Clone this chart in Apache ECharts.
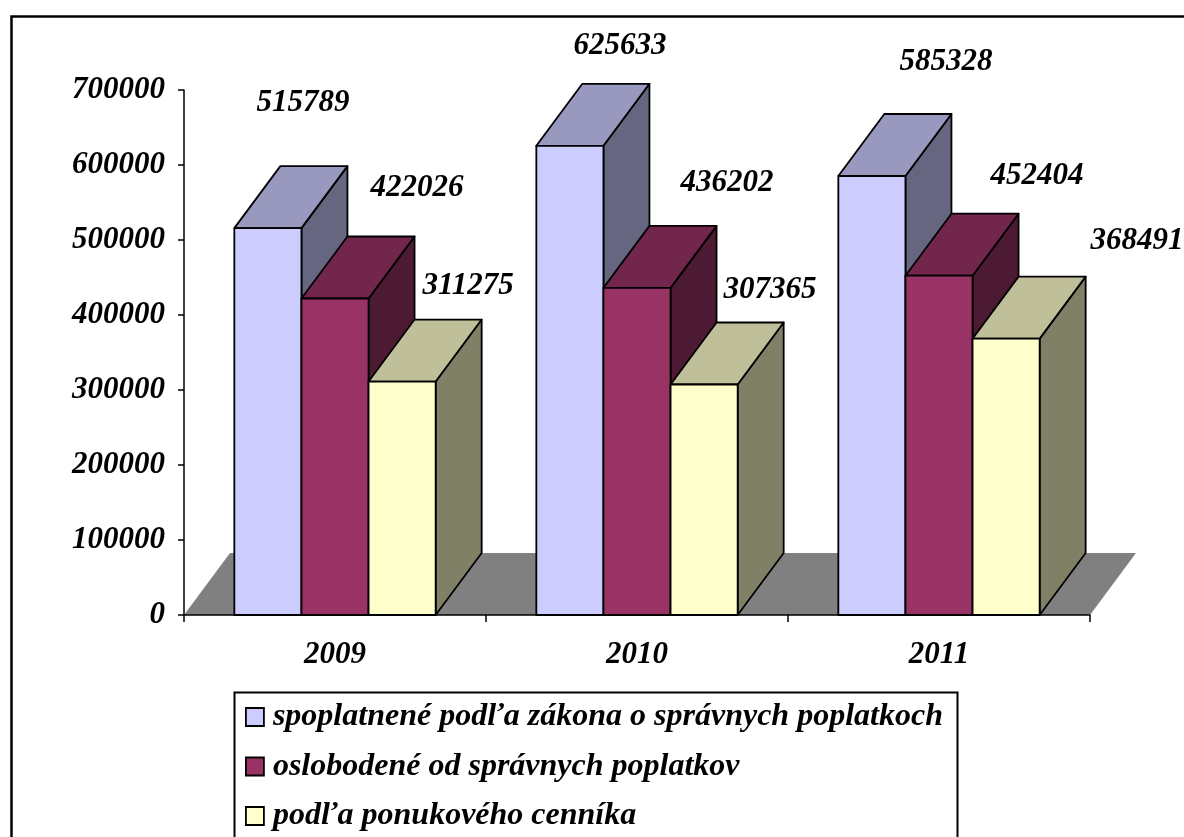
<!DOCTYPE html>
<html><head><meta charset="utf-8">
<script src="https://cdn.jsdelivr.net/npm/echarts@6/dist/echarts.min.js"></script>
<style>html,body{margin:0;padding:0;background:#fff}#c{width:1184px;height:837px}</style>
</head><body><div id="c"></div>
<script>
// ---- data ----
const categories = ['2009', '2010', '2011'];
const seriesNames = [
  'spoplatnené podľa zákona o správnych poplatkoch',
  'oslobodené od správnych poplatkov',
  'podľa ponukového cenníka'
];
const spoplatnene = [515789, 625633, 585328];
const oslobodene = [422026, 436202, 452404];
const cennik = [311275, 307365, 368491];
const yMin = 0, yMax = 700000, yStep = 100000;

// ---- style / layout ----
const FONT = 'Liberation Serif';
const palettes = [
  { front: '#CCCCFF', top: '#9999BF', side: '#666680' },
  { front: '#993366', top: '#73264C', side: '#4D1A33' },
  { front: '#FFFFCC', top: '#BFBF99', side: '#808066' }
];
const DX = 46, DY = -62;           // 3D depth projection in px
const labelNudge = [               // label offset from back-top centre of each bar
  [[-11, -63], [4, -38], [28, -52]],
  [[36, -48], [44, -43], [52, -38]],
  [[20, -34], [20, -32], [85, -36]]
];
const allValues = [spoplatnene, oslobodene, cennik];

function barRenderer(si) {
  const pal = palettes[si];
  return function (params, api) {
    const ci = api.value(0), v = api.value(1);
    const base = api.coord([ci, 0]);
    const top = api.coord([ci, v]);
    const band = api.size([1, 0])[0];
    const bw = band * 2 / 9;
    const x0 = base[0] - band / 3 + si * bw, x1 = x0 + bw;
    const yb = base[1], yt = top[1];
    const st = { stroke: '#000', lineWidth: 1.8, lineJoin: 'round' };
    const nud = labelNudge[si][ci];
    return {
      type: 'group',
      children: [
        { type: 'polygon', shape: { points: [[x1, yb], [x1 + DX, yb + DY], [x1 + DX, yt + DY], [x1, yt]] },
          style: Object.assign({ fill: pal.side }, st) },
        { type: 'polygon', shape: { points: [[x0, yt], [x1, yt], [x1 + DX, yt + DY], [x0 + DX, yt + DY]] },
          style: Object.assign({ fill: pal.top }, st) },
        { type: 'rect', shape: { x: x0, y: yt, width: bw, height: yb - yt },
          style: Object.assign({ fill: pal.front }, st) },
        { type: 'text', z2: 100,
          style: { text: String(v), x: (x0 + x1) / 2 + DX + nud[0], y: yt + DY + nud[1],
            align: 'center', verticalAlign: 'middle',
            font: 'italic bold 31px "' + FONT + '"', fill: '#000' } }
      ]
    };
  };
}

const series = [{
  type: 'custom', name: '_floor', silent: true,
  data: [[0, 0]],
  renderItem: function (params, api) {
    const cs = params.coordSys;
    const yb = cs.y + cs.height, xl = cs.x, xr = cs.x + cs.width;
    return { type: 'polygon', shape: { points: [[xl, yb], [xr, yb], [xr + DX, yb + DY], [xl + DX, yb + DY]] },
      style: { fill: '#808080' } };
  }
}];
allValues.forEach((vals, si) => {
  series.push({
    type: 'custom', name: seriesNames[si],
    itemStyle: { color: palettes[si].front },
    encode: { x: 0, y: 1 },
    data: vals.map((v, i) => [i, v]),
    renderItem: barRenderer(si)
  });
});

const chart = echarts.init(document.getElementById('c'), null, { renderer: 'canvas' });
chart.setOption({
  animation: false,
  backgroundColor: '#fff',
  grid: { left: 184, right: 94, top: 90, bottom: 222, containLabel: false },
  xAxis: {
    type: 'category', data: categories, z: 10,
    axisLine: { lineStyle: { color: '#000', width: 1.5 } },
    axisTick: { show: true, length: 7, lineStyle: { color: '#000', width: 1.5 } },
    axisLabel: { margin: 24, color: '#000', fontFamily: FONT, fontStyle: 'italic', fontWeight: 'bold', fontSize: 31 },
    splitLine: { show: false }
  },
  yAxis: {
    type: 'value', min: yMin, max: yMax, interval: yStep, z: 10,
    axisLine: { show: true, lineStyle: { color: '#000', width: 1.5 } },
    axisTick: { show: true, length: 6, lineStyle: { color: '#000', width: 1.5 } },
    axisLabel: { margin: 19, color: '#000', fontFamily: FONT, fontStyle: 'italic', fontWeight: 'bold', fontSize: 31,
      formatter: v => String(v) },
    splitLine: { show: false }
  },
  legend: {
    orient: 'vertical', left: 245, top: 701, padding: 0,
    itemWidth: 18, itemHeight: 18, itemGap: 17.5, selectedMode: false,
    textStyle: { fontFamily: FONT, fontStyle: 'italic', fontWeight: 'bold', fontSize: 32, color: '#000',
      lineHeight: 32, padding: [0, 0, 0, 4] },
    data: seriesNames.map((n, i) => ({ name: n, icon: 'rect',
      itemStyle: { color: palettes[i].front, borderColor: '#000', borderWidth: 1.8 } }))
  },
  graphic: [
    { type: 'rect', left: 9, top: 14, shape: { width: 1300, height: 1000 },
      style: { fill: null, stroke: '#000', lineWidth: 2.5 }, silent: true },
    { type: 'rect', left: 232, top: 690, shape: { width: 723, height: 200 },
      style: { fill: null, stroke: '#000', lineWidth: 2 }, silent: true }
  ],
  series: series
});
</script>
</body></html>
